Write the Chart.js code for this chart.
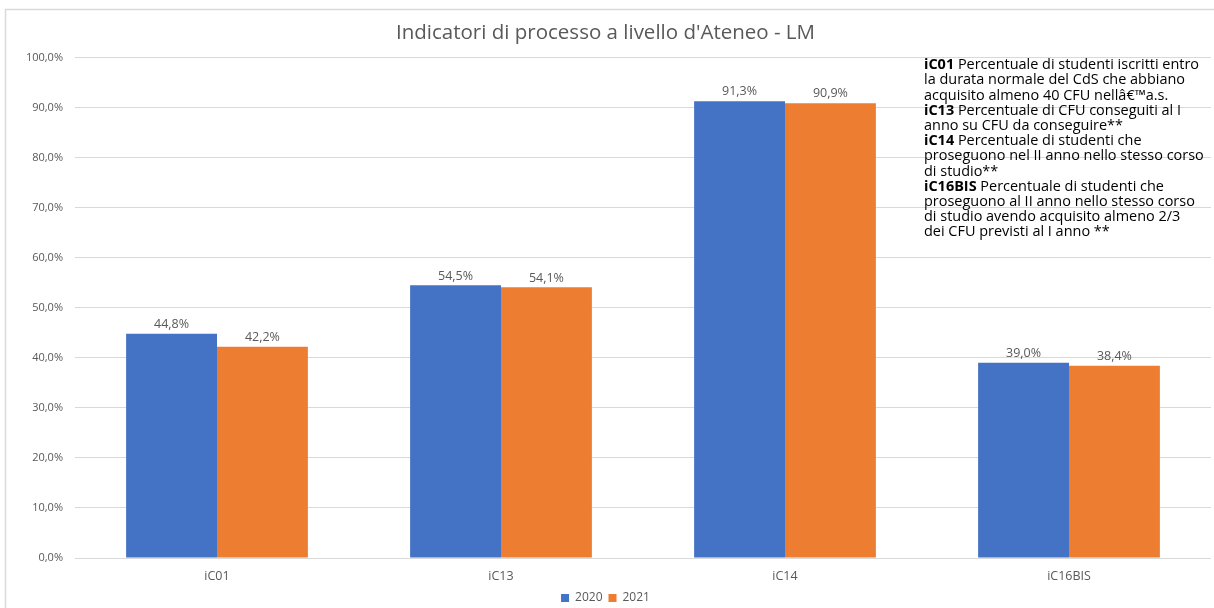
<!DOCTYPE html>
<html lang="it">
<head>
  <meta charset="UTF-8">
  <title>Indicatori di processo a livello d'Ateneo - LM</title>
  <script src="https://cdn.jsdelivr.net/npm/chart.js"></script>
  <style>
    html, body { margin: 0; padding: 0; background: #fff; }
    #wrap { width: 1214px; height: 608px; }
  </style>
</head>
<body>
  <div id="wrap"><canvas id="chart" width="1214" height="608"></canvas></div>
  <script>
    // data
    const categories = ["iC01", "iC13", "iC14", "iC16BIS"];
    const values2020 = [44.8, 54.5, 91.3, 39.0];
    const values2021 = [42.2, 54.1, 90.9, 38.4];
    const yTicks = [0, 10, 20, 30, 40, 50, 60, 70, 80, 90, 100];

    // note box text: [bold part, normal part] per line
    const noteLines = [
      ["iC01", " Percentuale di studenti iscritti entro"],
      ["", "la durata normale del CdS che abbiano"],
      ["", "acquisito almeno 40 CFU nellâ€™a.s."],
      ["iC13", " Percentuale di CFU conseguiti al I"],
      ["", "anno su CFU da conseguire**"],
      ["iC14", " Percentuale di studenti che"],
      ["", "proseguono nel II anno nello stesso corso"],
      ["", "di studio**"],
      ["iC16BIS", " Percentuale di studenti che"],
      ["", "proseguono al II anno nello stesso corso"],
      ["", "di studio avendo acquisito almeno 2/3"],
      ["", "dei CFU previsti al I anno **"]
    ];

    const fmt = v => v.toFixed(1).replace(".", ",") + "%";
    const FONT = "'Open Sans', 'Noto Sans', sans-serif";
    const grey = "#595959";

    // value labels above bars + note text + frame
    const extras = {
      id: "extras",
      afterDatasetsDraw(chart) {
        const ctx = chart.ctx;
        ctx.save();
        ctx.font = "12.5px " + FONT;
        ctx.fillStyle = grey;
        ctx.textAlign = "center";
        ctx.textBaseline = "bottom";
        chart.data.datasets.forEach((ds, i) => {
          chart.getDatasetMeta(i).data.forEach((bar, j) => {
            ctx.fillText(fmt(ds.data[j]), bar.x, bar.y - 3);
          });
        });

        // fit the note text to the width seen in the original (~280px)
        ctx.font = "12px " + FONT;
        const widest = ctx.measureText(noteLines[6][1]).width;
        const size = 12 * 280 / widest;
        ctx.textAlign = "left";
        ctx.textBaseline = "middle";
        ctx.fillStyle = "#000";
        let y = 65;
        noteLines.forEach(([b, n]) => {
          let x = 924;
          if (b) {
            ctx.font = "bold " + size + "px " + FONT;
            ctx.fillText(b, x, y);
            x += ctx.measureText(b).width;
          }
          ctx.font = size + "px " + FONT;
          ctx.fillText(n, x, y);
          y += 15.2;
        });

        ctx.strokeStyle = "#d9d9d9";
        ctx.lineWidth = 1.5;
        ctx.beginPath();
        ctx.moveTo(5.5, 608);
        ctx.lineTo(5.5, 9.5);
        ctx.lineTo(1214, 9.5);
        ctx.stroke();
        ctx.restore();
      }
    };

    new Chart(document.getElementById("chart"), {
      type: "bar",
      data: {
        labels: categories,
        datasets: [
          { label: "2020", data: values2020, backgroundColor: "#4472C4" },
          { label: "2021", data: values2021, backgroundColor: "#ED7D31" }
        ]
      },
      options: {
        responsive: false,
        animation: false,
        layout: { padding: { top: 0, right: 3, bottom: -6, left: 0 } },
        datasets: { bar: { categoryPercentage: 0.64, barPercentage: 1.0 } },
        scales: {
          x: {
            grid: { display: false },
            border: { display: false },
            ticks: { color: grey, font: { size: 12.5, family: FONT }, padding: 2.5 }
          },
          y: {
            min: 0,
            max: 100,
            afterFit: s => { s.width = 75; },
            afterBuildTicks: s => { s.ticks = yTicks.map(v => ({ value: v })); },
            grid: { color: "#d9d9d9", drawTicks: false },
            border: { display: false },
            ticks: { color: grey, font: { size: 11, family: FONT }, padding: 12, callback: v => fmt(v) }
          }
        },
        plugins: {
          title: {
            display: true,
            text: "Indicatori di processo a livello d'Ateneo - LM",
            color: grey,
            font: { size: 20.5, weight: "normal", family: FONT },
            padding: { top: 21, bottom: 12 }
          },
          legend: {
            position: "bottom",
            labels: { color: grey, font: { size: 12, family: FONT }, boxWidth: 8, boxHeight: 8, padding: 6 }
          },
          tooltip: { enabled: false }
        }
      },
      plugins: [extras]
    });
  </script>
</body>
</html>
